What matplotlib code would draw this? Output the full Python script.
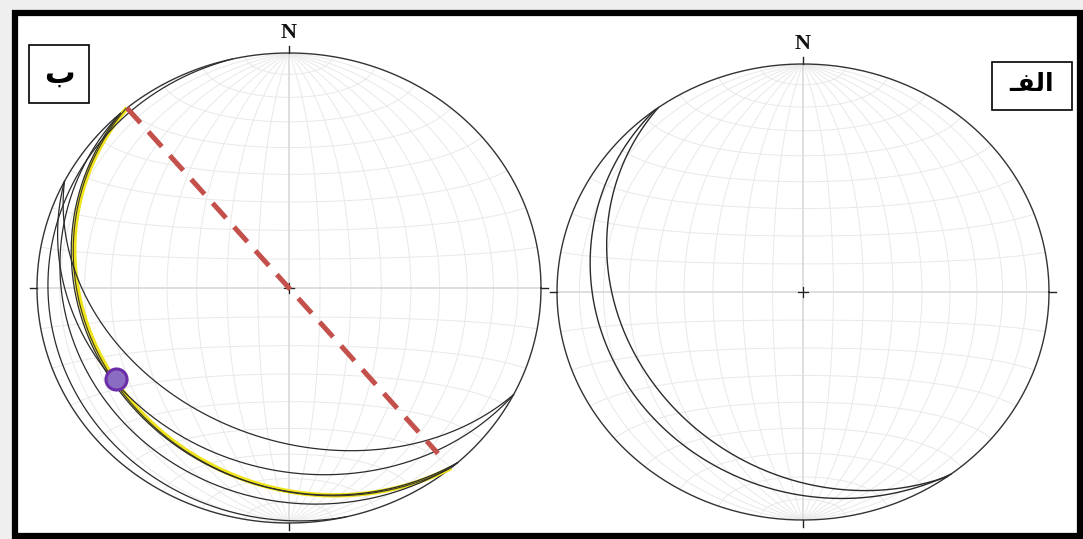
import numpy as np
import matplotlib.pyplot as plt
from matplotlib.patches import Rectangle

# planes (strike, dip) - right hand rule, dip to strike+90
left_strikes = [117, 117, 138, 138, 167]
left_dips = [37, 25, 21, 14, 5]
yellow_strike = 140
yellow_dip = 22
right_strikes = [144, 143]
right_dips = [28, 19]

# lineation on the yellow plane (trend, plunge)
point_trend = 240.6
point_plunge = 22.3

labels = ["\u0628", "\u0640\uFED4\uFEDF\uFE8D"]   # ب , الف (visual order)


def project(e, n, z, net):
    cx, cy, rx, ry = net
    f = 1.0 / np.sqrt(1.0 + z)
    return cx + rx * e * f, cy - ry * n * f


def plane_vecs(strike, dip, npts=300):
    s = np.radians(strike)
    d = np.radians(dip)
    t = np.linspace(0, np.pi, npts)
    sv = np.array([np.sin(s), np.cos(s), 0.0])
    dv = np.array([np.cos(s) * np.cos(d), -np.sin(s) * np.cos(d), np.sin(d)])
    v = np.outer(np.cos(t), sv) + np.outer(np.sin(t), dv)
    return v[:, 0], v[:, 1], v[:, 2]


def draw_net(ax, net):
    cx, cy, rx, ry = net
    grid = dict(color='#e9e9e9', lw=0.7, zorder=1)
    # meridians
    for d in range(10, 90, 10):
        for s in (0, 180):
            e, n, z = plane_vecs(s, d)
            ax.plot(*project(e, n, z, net), **grid)
    # small circles about N-S axis
    phi = np.linspace(0, np.pi, 300)
    for a in range(10, 180, 10):
        if a == 90:
            continue
        ar = np.radians(a)
        e = np.sin(ar) * np.cos(phi)
        n = np.full_like(phi, np.cos(ar))
        z = np.sin(ar) * np.sin(phi)
        ax.plot(*project(e, n, z, net), **grid)
    # diameters
    ax.plot([cx - rx, cx + rx], [cy, cy], color='#dedede', lw=1.4, zorder=1)
    ax.plot([cx, cx], [cy - ry, cy + ry], color='#dedede', lw=1.4, zorder=1)
    # primitive
    th = np.linspace(0, 2 * np.pi, 500)
    ax.plot(cx + rx * np.cos(th), cy + ry * np.sin(th), color='#333333', lw=1.0, zorder=3)
    # ticks
    k = 7
    ax.plot([cx, cx], [cy - ry, cy - ry - k], color='#222222', lw=1.0)
    ax.plot([cx, cx], [cy + ry, cy + ry + k], color='#222222', lw=1.0)
    ax.plot([cx - rx, cx - rx - k], [cy, cy], color='#222222', lw=1.0)
    ax.plot([cx + rx, cx + rx + k], [cy, cy], color='#222222', lw=1.0)
    # centre cross
    ax.plot([cx - 5, cx + 5], [cy, cy], color='#222222', lw=0.9, zorder=6)
    ax.plot([cx, cx], [cy - 5, cy + 5], color='#222222', lw=0.9, zorder=6)
    ax.text(cx, cy - ry - 10, 'N', ha='center', va='bottom', fontsize=16,
            fontweight='bold', family='Liberation Serif', color='#111111')


fig = plt.figure(figsize=(10.83, 5.39), dpi=100, facecolor='#efefef')
ax = fig.add_axes([0, 0, 1, 1])
ax.set_xlim(0, 1083)
ax.set_ylim(539, 0)
ax.axis('off')

ax.add_patch(Rectangle((15, 13), 1065, 523, facecolor='white', edgecolor='black',
                       lw=4.5, zorder=0))

net_left = (289, 288, 252, 235)
net_right = (803, 292, 246, 228)
draw_net(ax, net_left)
draw_net(ax, net_right)

# left net
e, n, z = plane_vecs(yellow_strike, yellow_dip)
x, y = project(e, n, z, net_left)
ax.plot(x, y, color='#f0e31a', lw=3.2, zorder=4, solid_capstyle='butt')
ax.plot(x - 1, y + 0.5, color='#3a3a2a', lw=0.8, zorder=5)
for s, d in zip(left_strikes, left_dips):
    e, n, z = plane_vecs(s, d)
    ax.plot(*project(e, n, z, net_left), color='#2b2b2b', lw=0.9, zorder=5)

# strike line of yellow plane
sr = np.radians(yellow_strike)
cx, cy, rx, ry = net_left
tt = np.array([-1.0, 0.92])
ax.plot(cx + rx * tt * np.sin(sr), cy - ry * tt * np.cos(sr), color='#c4504c',
        lw=3.6, dashes=(4, 2.4), zorder=6)

tr = np.radians(point_trend)
pl = np.radians(point_plunge)
px, py = project(np.cos(pl) * np.sin(tr), np.cos(pl) * np.cos(tr), np.sin(pl), net_left)
ax.scatter([px], [py], s=230, facecolor='#8a6cc2', edgecolor='#6b2ea8', lw=2.2, zorder=7)

# right net
for s, d in zip(right_strikes, right_dips):
    e, n, z = plane_vecs(s, d)
    ax.plot(*project(e, n, z, net_right), color='#2b2b2b', lw=1.0, zorder=5)

# label boxes
ax.add_patch(Rectangle((29, 45), 60, 58, facecolor='white', edgecolor='black', lw=1.2, zorder=8))
ax.text(59, 74, labels[0], ha='center', va='center', fontsize=22, fontweight='bold',
        family=['DejaVu Sans'], zorder=9)
ax.add_patch(Rectangle((992, 62), 80, 48, facecolor='white', edgecolor='black', lw=1.2, zorder=8))
ax.text(1032, 84, labels[1], ha='center', va='center', fontsize=18, fontweight='bold',
        family=['DejaVu Sans'], zorder=9)

fig.savefig('out.png', dpi=100, facecolor=fig.get_facecolor())
